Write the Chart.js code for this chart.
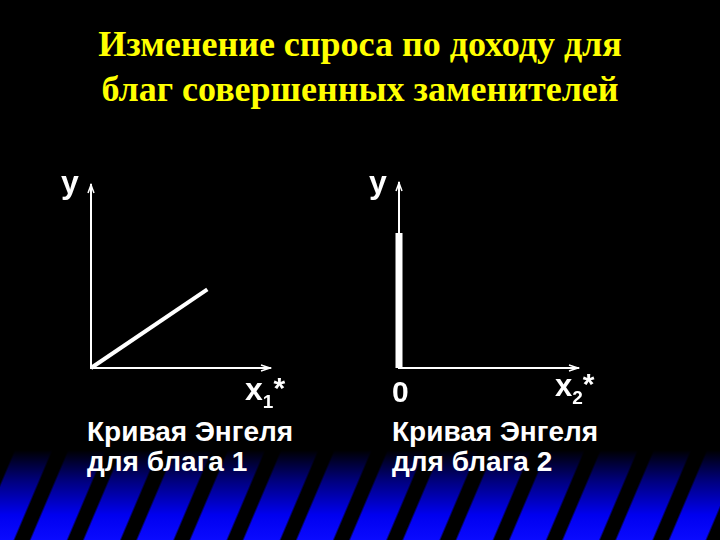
<!DOCTYPE html>
<html>
<head>
<meta charset="utf-8">
<script src="https://cdn.jsdelivr.net/npm/chart.js@4.4.0/dist/chart.umd.min.js"></script>
<style>
  html, body { margin: 0; padding: 0; }
  body { width: 720px; height: 540px; background: #000; position: relative; overflow: hidden; }
  .band {
    position: absolute; left: 0; top: 450px; width: 720px; height: 90px;
    background:
      repeating-linear-gradient(113deg, #000 0 13px, rgba(0,0,0,0) 15px 47px, #000 49px),
      linear-gradient(to bottom, #000 0, #00007a 30px, #0000f0 65px, #0a0aff 90px);
  }
  .title {
    position: absolute; left: 0; top: 22px; width: 720px; text-align: center;
    font: bold 36px "Liberation Serif", "Times New Roman", serif; line-height: 45px; color: #ffff00;
  }
  .lbl { position: absolute; color: #fff; font-family: "Liberation Sans", Arial, sans-serif; font-weight: bold; line-height: 1; white-space: nowrap; }
  .cap { position: absolute; color: #fff; font: bold 28px "Liberation Sans", Arial, sans-serif; line-height: 30px; white-space: nowrap; }
  canvas { position: absolute; }
  .sub { font-size: 19px; position: relative; top: 8px; }
  .sup { font-size: 30px; position: relative; top: -2px; }
</style>
</head>
<body>
<div class="band"></div>
<div class="title">Изменение спроса по доходу для<br>благ совершенных заменителей</div>

<canvas id="engel1" width="260" height="220" style="left:50px;top:165px"></canvas>
<canvas id="engel2" width="260" height="220" style="left:358px;top:165px"></canvas>

<div class="lbl" style="left:61px;top:166px;font-size:32px">y</div>
<div class="lbl" style="left:369px;top:166px;font-size:32px">y</div>
<div class="lbl" style="left:245px;top:373px;font-size:32px">x<span class="sub">1</span><span class="sup">*</span></div>
<div class="lbl" style="left:392px;top:377px;font-size:30px">0</div>
<div class="lbl" style="left:555px;top:370px;font-size:31px">x<span class="sub">2</span><span class="sup">*</span></div>

<div class="cap" style="left:87px;top:417px">Кривая Энгеля<br>для блага 1</div>
<div class="cap" style="left:392px;top:417px">Кривая Энгеля<br>для блага 2</div>

<script>
// Engel curve for good 1: straight line from origin
const engel1X = [0, 6.5];
const engel1Y = [0, 4.3];
// Engel curve for good 2: lies on the income axis
const engel2X = [0, 0];
const engel2Y = [0, 7.3];
const axisMin = 0;
const axisMax = 10;

// arrowheads at the ends of both axes
const arrowPlugin = {
    id: 'arrows',
    afterDraw(chart) {
        const { ctx, chartArea: a } = chart;
        ctx.save();
        ctx.strokeStyle = '#fff';
        ctx.lineWidth = 1.5;
        ctx.beginPath();
        ctx.moveTo(a.left - 3, a.top + 8);
        ctx.lineTo(a.left, a.top);
        ctx.lineTo(a.left + 3, a.top + 8);
        ctx.moveTo(a.right - 9, a.bottom - 3);
        ctx.lineTo(a.right, a.bottom);
        ctx.lineTo(a.right - 9, a.bottom + 3);
        ctx.stroke();
        ctx.restore();
    }
};

const makeChart = (id, xs, ys, width, padding) => {
    const points = xs.map((x, i) => ({ x: x, y: ys[i] }));
    return new Chart(document.getElementById(id), {
        type: 'scatter',
        data: {
            datasets: [{
                data: points,
                showLine: true,
                borderColor: '#fff',
                borderWidth: width,
                pointRadius: 0,
                clip: false
            }]
        },
        options: {
            responsive: false,
            animation: false,
            layout: { padding: padding },
            plugins: { legend: { display: false }, tooltip: { enabled: false } },
            scales: {
                x: {
                    min: axisMin, max: axisMax,
                    ticks: { display: false },
                    grid: { display: false },
                    border: { display: true, color: '#fff', width: 2 }
                },
                y: {
                    min: axisMin, max: axisMax,
                    ticks: { display: false },
                    grid: { display: false },
                    border: { display: true, color: '#fff', width: 2 }
                }
            }
        },
        plugins: [arrowPlugin]
    });
};

makeChart('engel1', engel1X, engel1Y, 4, { left: 33, top: 20, right: 40, bottom: 9 });
makeChart('engel2', engel2X, engel2Y, 7, { left: 33, top: 18, right: 40, bottom: 9 });
</script>
</body>
</html>
